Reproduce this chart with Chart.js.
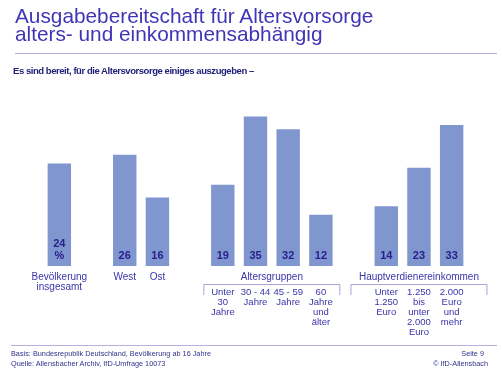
<!DOCTYPE html>
<html>
<head>
<meta charset="utf-8">
<script src="https://cdn.jsdelivr.net/npm/chart.js@4.4.1/dist/chart.umd.min.js"></script>
<style>
  body { margin: 0; background: #fff; }
  #wrap { position: relative; width: 502px; height: 375px; overflow: hidden; font-family: "Liberation Sans", Arial, sans-serif; }
  #grafico { position: absolute; left: 0; top: 0; }
  .txt { position: absolute; white-space: nowrap; }
  #titulo { left: 15px; top: 7px; font-size: 20.8px; line-height: 18px; color: #4234b6; }
  #subtitulo { left: 13px; top: 65px; font-size: 9.5px; line-height: 12px; letter-spacing: -0.45px; font-weight: bold; color: #23207a; }
  .regla { position: absolute; height: 1px; background: #b6b0e2; }
  .pie { font-size: 7.3px; line-height: 10px; color: #34318c; }
</style>
</head>
<body>
<div id="wrap">
  <canvas id="grafico" width="502" height="375"></canvas>
  <div id="titulo" class="txt">Ausgabebereitschaft für Altersvorsorge<br>alters- und einkommensabhängig</div>
  <div class="regla" style="left:15px; top:53px; width:482px;"></div>
  <div id="subtitulo" class="txt">Es sind bereit, für die Altersvorsorge einiges auszugeben –</div>
  <div class="regla" style="left:11px; top:345px; width:486px;"></div>
  <div class="txt pie" style="left:11px; top:349px;">Basis: Bundesrepublik Deutschland, Bevölkerung ab 16 Jahre<br>Quelle: Allensbacher Archiv, IfD-Umfrage 10073</div>
  <div class="txt pie" style="right:18px; top:349px; text-align:right;">Seite 9</div>
  <div class="txt pie" style="right:14px; top:359px; text-align:right;">© IfD-Allensbach</div>
</div>
<script>
// datos (posiciones vacias = separacion entre grupos)
const categorias = ['Bevölkerung insgesamt', '', 'West', 'Ost', '', 'Unter 30 Jahre', '30 - 44 Jahre', '45 - 59 Jahre', '60 Jahre und älter', '', 'Unter 1.250 Euro', '1.250 bis unter 2.000 Euro', '2.000 Euro und mehr'];
const valores = [24, null, 26, 16, null, 19, 35, 32, 12, null, 14, 23, 33];
const etiquetas = [['Bevölkerung', 'insgesamt'], [], ['West'], ['Ost'], [], [], [], [], [], [], [], [], []];
const subEtiquetas = [[], [], [], [], [], ['Unter', '30', 'Jahre'], ['30 - 44', 'Jahre'], ['45 - 59', 'Jahre'], ['60', 'Jahre', 'und', 'älter'], [], ['Unter', '1.250', 'Euro'], ['1.250', 'bis', 'unter', '2.000', 'Euro'], ['2.000', 'Euro', 'und', 'mehr']];
const grupos = ['Altersgruppen', 'Hauptverdienereinkommen'];
const gruposDesde = [5, 10];
const gruposHasta = [8, 12];
const unidad = '%';

const colorBarra = '#7f96cf';
const colorNumero = '#28208c';
const colorTexto = '#3b35a8';
const colorLinea = '#aaa4d8';

const etiquetasPlugin = {
    id: 'etiquetas',
    afterDatasetsDraw(chart) {
        const c = chart.ctx;
        const x = chart.scales.x;
        const y = chart.scales.y;
        const base = y.getPixelForValue(0);
        c.save();
        c.textAlign = 'center';
        c.textBaseline = 'alphabetic';

        // numeros dentro de las barras
        c.font = 'bold 11px "Liberation Sans", Arial, sans-serif';
        c.fillStyle = colorNumero;
        valores.forEach((v, i) => {
            if (v === null) return;
            const px = x.getPixelForValue(i);
            if (i === 0) {
                c.fillText(String(v), px, base - 19);
                c.fillText(unidad, px, base - 7);
            } else {
                c.fillText(String(v), px, base - 7);
            }
        });

        // etiquetas bajo las barras
        c.font = '10px "Liberation Sans", Arial, sans-serif';
        c.fillStyle = colorTexto;
        etiquetas.forEach((lineas, i) => {
            lineas.forEach((t, k) => c.fillText(t, x.getPixelForValue(i), base + 13.5 + k * 10));
        });

        // grupos con su recuadro
        grupos.forEach((g, j) => {
            const cx = (x.getPixelForValue(gruposDesde[j]) + x.getPixelForValue(gruposHasta[j])) / 2;
            c.fillStyle = colorTexto;
            c.font = '10px "Liberation Sans", Arial, sans-serif';
            c.fillText(g, cx, base + 13.5);
            c.strokeStyle = colorLinea;
            c.lineWidth = 1;
            c.beginPath();
            c.moveTo(cx - 68, base + 29);
            c.lineTo(cx - 68, base + 18.5);
            c.lineTo(cx + 68, base + 18.5);
            c.lineTo(cx + 68, base + 29);
            c.stroke();
        });

        c.font = '9.5px "Liberation Sans", Arial, sans-serif';
        c.fillStyle = colorTexto;
        subEtiquetas.forEach((lineas, i) => {
            lineas.forEach((t, k) => c.fillText(t, x.getPixelForValue(i), base + 28.5 + k * 10));
        });
        c.restore();
    }
};

new Chart(document.getElementById('grafico'), {
    type: 'bar',
    data: {
        labels: categorias,
        datasets: [{
            data: valores,
            backgroundColor: colorBarra,
            borderWidth: 0,
            barPercentage: 0.716,
            categoryPercentage: 1
        }]
    },
    options: {
        responsive: false,
        animation: false,
        layout: { padding: { left: 43, right: 34, top: 95, bottom: 109 } },
        scales: {
            x: { display: false },
            y: { display: false, min: 0, max: 40 }
        },
        plugins: {
            legend: { display: false },
            tooltip: { enabled: false }
        }
    },
    plugins: [etiquetasPlugin]
});
</script>
</body>
</html>
